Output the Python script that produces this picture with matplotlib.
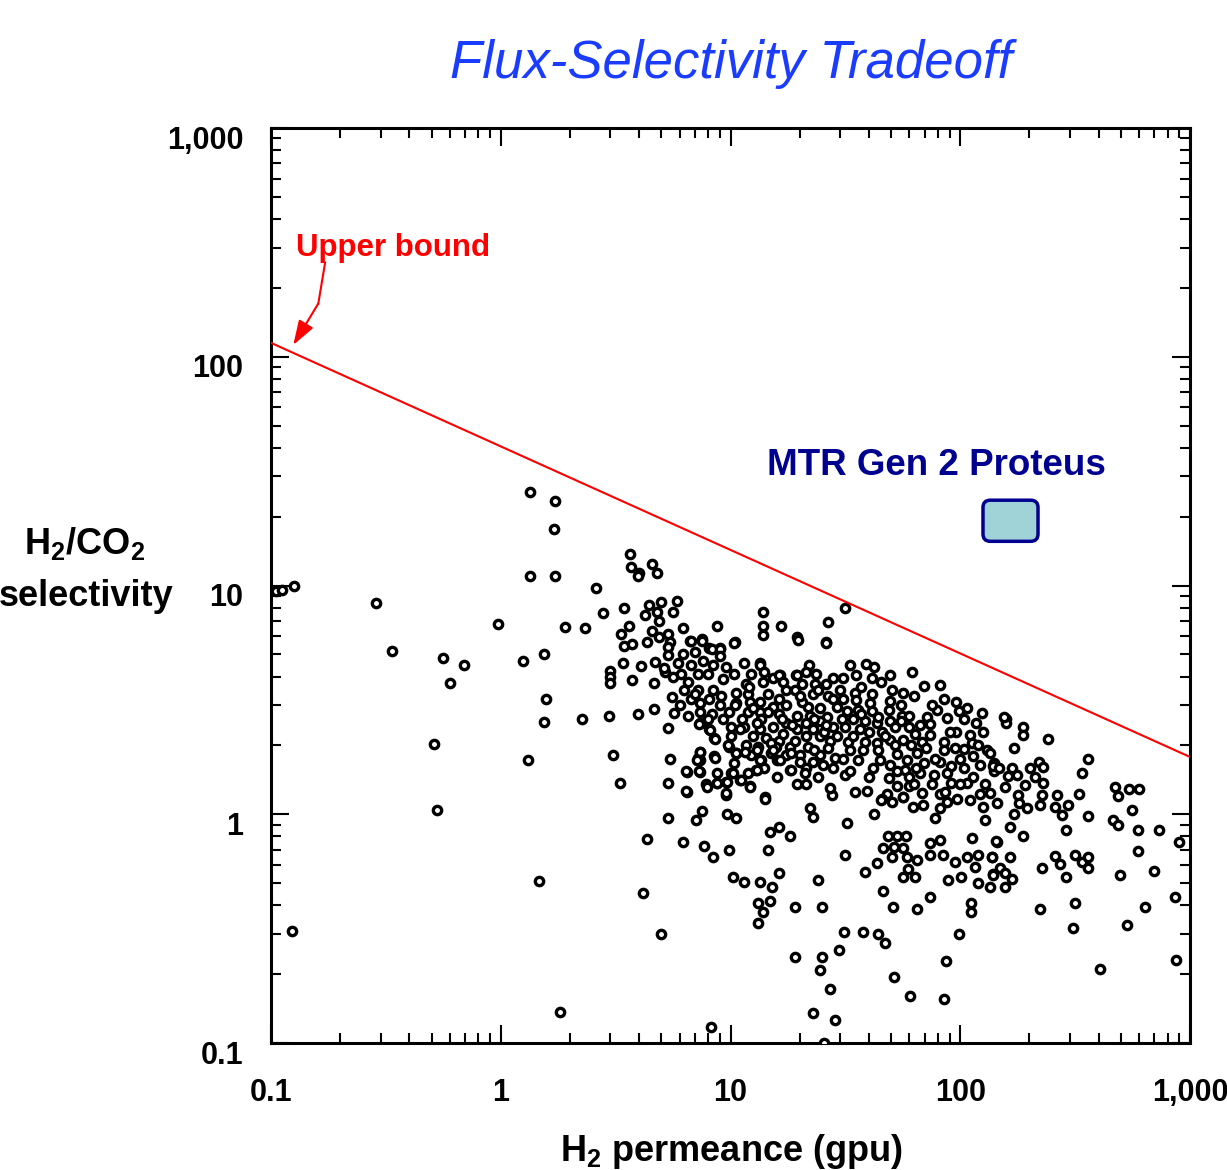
import numpy as np
import matplotlib
matplotlib.use("Agg")
from matplotlib import pyplot as plt, ticker, transforms
from matplotlib.patches import FancyBboxPatch

plt.rcParams['font.family'] = ['Liberation Sans', 'DejaVu Sans']
plt.rcParams['mathtext.fontset'] = 'custom'
plt.rcParams['mathtext.rm'] = 'Liberation Sans:bold'
plt.rcParams['mathtext.it'] = 'Liberation Sans:bold'
plt.rcParams['mathtext.bf'] = 'Liberation Sans:bold'
plt.rcParams['mathtext.default'] = 'rm'

# (H2 permeance [gpu], H2/CO2 selectivity), grouped by region
pts_low_perm = [
    (0.105, 9.5), (0.112, 9.6), (0.126, 10.0), (0.286, 8.4), (0.335, 5.15), (0.562, 4.82),
    (0.69, 4.5), (0.60, 3.74), (0.513, 2.02), (0.526, 1.04), (0.123, 0.31), (0.97, 6.8),
    (1.34, 25.6), (1.72, 23.3), (1.70, 17.7), (1.34, 11.0), (1.72, 11.0), (2.59, 9.8),
    (2.78, 7.6), (1.90, 6.6), (2.32, 6.5), (1.25, 4.7), (1.54, 5.04), (1.57, 3.2),
    (1.54, 2.53), (2.26, 2.6), (1.31, 1.72), (1.47, 0.51), (1.81, 0.137),
]

pts_upper_left = [
    (3.65, 13.8), (3.70, 12.1), (3.98, 11.3), (3.95, 11.0), (4.54, 12.4), (4.77, 11.3),
    (3.45, 7.97), (4.44, 8.2), (4.98, 8.45), (4.25, 7.43), (4.77, 7.69), (4.9, 7.0),
    (5.87, 8.58), (5.6, 7.69), (3.63, 6.65), (3.33, 6.14), (3.44, 5.44), (3.71, 5.55),
    (4.54, 6.35), (4.34, 5.68), (4.9, 5.97), (5.36, 6.14), (5.45, 5.68), (5.36, 5.4),
    (5.36, 4.97), (6.23, 6.5), (6.66, 5.73), (7.49, 5.82), (8.71, 6.65), (10.46, 5.68),
    (8.1, 5.32), (9.0, 5.32), (13.8, 7.64), (13.8, 6.67), (13.8, 6.08), (16.6, 6.65),
    (19.5, 5.93), (3.39, 4.6), (4.06, 4.45), (2.99, 4.24), (2.99, 4.0), (2.99, 3.74),
    (3.71, 3.86), (4.65, 3.76), (4.7, 4.65), (5.2, 4.2), (5.15, 4.35), (2.97, 2.69),
    (3.95, 2.74), (4.65, 2.88), (13.5, 4.57), (16.4, 4.06), (19.3, 4.06), (5.9, 4.6),
    (5.6, 4.0), (5.55, 3.26), (5.7, 2.76), (31.5, 8.0), (26.7, 6.95), (26.0, 5.68),
]

pts_core_a = [
    (6.7, 5.7), (7.5, 5.7), (8.3, 5.3), (9.0, 5.3), (10.4, 5.6), (19.7, 5.8), (26, 5.6),
    (6.2, 5.0), (7.0, 5.1), (9.0, 4.9), (7.6, 4.7), (6.7, 4.5), (8.4, 4.5), (9.6, 4.4),
    (11.4, 4.6), (13.4, 4.5), (22, 4.5), (6.1, 4.1), (7.2, 4.1), (8.0, 4.1), (10.4, 4.1),
    (12.3, 4.1), (15.3, 3.95), (16.3, 4.05), (19.4, 4.05), (21.4, 4.2), (23.6, 4.1),
    (28, 3.95), (6.55, 3.8), (9.3, 3.9), (11.7, 3.7), (13.8, 3.8), (20.4, 3.7), (23.3, 3.7),
    (26, 3.7), (6.3, 3.5), (7.2, 3.5), (8.4, 3.5), (10.6, 3.4), (11.9, 3.35), (14.5, 3.35),
    (17.5, 3.5), (19.1, 3.5), (22.9, 3.35), (26.6, 3.3), (6.7, 3.2), (8.1, 3.2), (9.1, 3.3),
    (13.4, 3.1), (16.3, 3.2), (28, 3.2), (6.0, 3.0), (7.35, 3.05), (10.6, 3.05), (12.1, 3.1),
    (15.3, 2.95), (17.5, 3.0), (21.8, 2.95), (24.5, 2.9), (29, 2.95), (6.55, 2.7), (7.35, 2.8),
    (8.3, 2.75), (9.9, 2.8), (11.9, 2.8), (13.4, 2.8), (16.3, 2.75), (19.4, 2.7), (22.1, 2.7),
    (26.2, 2.65), (7.35, 2.5), (9.3, 2.6), (11.2, 2.6), (13.6, 2.6), (17.5, 2.5), (21.4, 2.5),
    (24.5, 2.55), (8.1, 2.35), (10.1, 2.4), (11.4, 2.4), (13.4, 2.35), (15.3, 2.4), (19.4, 2.35),
    (22.9, 2.35), (28, 2.4), (8.5, 2.15), (10.1, 2.2), (12.5, 2.2), (14.3, 2.15), (16.3, 2.1),
    (21.4, 2.2), (24.5, 2.2), (27, 2.1), (9.9, 1.97), (11.7, 2.0), (13.2, 1.97), (15.8, 1.97),
    (18.1, 1.97), (21.8, 1.97), (26.6, 1.94), (7.35, 1.88), (10.6, 1.85), (12.3, 1.82),
    (15.0, 1.85), (17.5, 1.82), (20.1, 1.82), (24.5, 1.82), (28.5, 1.76), (7.2, 1.76),
    (8.5, 1.79), (13.6, 1.73), (16.0, 1.73), (22.9, 1.70), (10.4, 1.67), (6.45, 1.53),
    (7.35, 1.53), (10.1, 1.51), (11.9, 1.51), (12.9, 1.56), (18.1, 1.56), (21.4, 1.59),
    (25.3, 1.64), (21.1, 1.51), (7.8, 1.35), (8.7, 1.37), (9.6, 1.39), (11.0, 1.41),
    (12.1, 1.33), (19.4, 1.35), (21.4, 1.35), (6.45, 1.25), (9.6, 1.21), (14.1, 1.19),
    (27.6, 1.21),
]

pts_core_b = [
    (33, 4.5), (39, 4.55), (42, 4.4), (49.6, 4.05), (61.7, 4.2), (69.3, 3.65), (81.5, 3.68),
    (31, 3.95), (35.3, 4.05), (41.2, 3.95), (34.7, 3.4), (41.2, 3.35), (50.4, 3.5), (56.6, 3.4),
    (31, 3.2), (35.3, 3.15), (40.4, 3.05), (49.6, 3.12), (84.8, 3.2), (95.4, 3.08), (32, 2.83),
    (36, 2.86), (41.2, 2.83), (48.8, 2.86), (55.6, 2.7), (59.6, 2.68), (71.7, 2.66), (79.3, 2.86),
    (87.7, 2.64), (98.6, 2.83), (107, 2.9), (124, 2.78), (30.5, 2.6), (34.1, 2.6), (38.4, 2.56),
    (43.3, 2.5), (49.6, 2.56), (59.6, 2.4), (67, 2.45), (74.2, 2.48), (103.6, 2.6), (31.5, 2.4),
    (36.7, 2.35), (45.6, 2.28), (52.2, 2.4), (63.8, 2.25), (74.2, 2.21), (95.4, 2.28), (110, 2.21),
    (126, 2.28), (32.5, 2.07), (38.4, 2.07), (43.3, 2.04), (49.6, 2.11), (56.6, 2.11), (68.3, 2.07),
    (84.8, 2.07), (112, 2.04), (33.2, 1.9), (37.9, 1.9), (44, 1.9), (53.2, 1.83), (64.9, 1.86),
    (84.8, 1.9), (103.6, 1.92), (131, 1.9), (36, 1.72), (44.8, 1.72), (58.6, 1.72), (69.3, 1.67),
    (82, 1.69), (100, 1.75), (114, 1.79), (140, 1.67), (41.9, 1.6), (49.6, 1.64), (57.6, 1.56),
    (67, 1.51), (90.7, 1.62), (103.6, 1.6), (122, 1.64), (31.5, 1.48), (48.8, 1.44), (59.6, 1.46),
    (76.7, 1.48), (87.7, 1.51), (114, 1.46), (140, 1.54), (53.2, 1.33), (59.6, 1.33), (75.5, 1.35),
    (90.7, 1.37), (107, 1.37), (128, 1.35), (39.1, 1.26), (48, 1.23), (68.3, 1.24), (82, 1.22),
    (122, 1.23), (45.6, 1.17), (56.6, 1.19), (97, 1.17),
]

# points hidden in the solid black core of the cloud
pts_core_fill = [
    (10.5, 3.0), (12.5, 2.9), (14.5, 2.8), (16.8, 2.6), (18.5, 2.45), (20.5, 3.1), (23, 2.6),
    (25.5, 2.3), (11, 2.35), (13, 2.5), (15, 2.05), (17, 2.25), (19, 2.1), (20, 1.7), (23, 1.9),
    (26, 2.45), (29, 2.2), (31, 1.75), (34, 2.2), (37, 2.75), (40, 2.3), (44, 2.65), (47, 2.2),
    (52, 2.0), (55, 2.55), (61, 2.0), (64, 1.6), (71, 1.95), (78, 1.75), (90, 2.3), (95, 1.95),
    (117, 2.5), (120, 2.0), (9.0, 3.0), (8.0, 2.6), (7.0, 3.35), (12, 3.6), (14, 4.2), (17, 3.8),
    (20, 3.3), (24, 3.5), (30, 3.5), (37, 3.6), (45, 3.8), (55, 3.0), (63, 3.3), (75, 3.0),
    (14, 1.6), (16, 1.45), (24, 1.45), (28, 1.6), (33, 1.55), (40, 1.45), (53, 1.55), (27, 1.3),
    (35, 1.25), (63, 1.35), (100, 1.35), (86, 1.25),
]

pts_lower_left = [
    (5.36, 2.38), (7.31, 2.48), (8.56, 2.13), (8.15, 2.34), (9.78, 2.01), (3.09, 1.82),
    (5.45, 1.74), (7.37, 1.88), (7.37, 1.73), (7.13, 1.73), (8.56, 1.77), (6.4, 1.55),
    (7.31, 1.55), (8.76, 1.52), (10.3, 1.52), (13.0, 1.56), (10.6, 1.85), (11.6, 1.88),
    (13.0, 1.91), (13.4, 1.73), (15.3, 1.91), (16.4, 1.73), (18.4, 1.85), (18.4, 1.56),
    (3.3, 1.37), (5.36, 1.37), (6.4, 1.26), (7.88, 1.32), (8.76, 1.365), (9.63, 1.39),
    (11.1, 1.41), (12.1, 1.32), (9.6, 1.235), (14.1, 1.17), (5.36, 0.96), (7.1, 0.944),
    (7.49, 1.03), (9.63, 1.0), (10.6, 0.96), (14.9, 0.839), (16.3, 0.877), (18.2, 0.80),
    (4.35, 0.78), (6.23, 0.76), (7.67, 0.726), (8.41, 0.652), (9.88, 0.698), (14.5, 0.698),
    (10.3, 0.53), (11.5, 0.504), (13.5, 0.504), (15.1, 0.482), (16.3, 0.555), (4.15, 0.451),
    (4.97, 0.30), (13.2, 0.41), (14.8, 0.418), (13.9, 0.375), (13.2, 0.336), (19.1, 0.394),
    (24.9, 0.394), (24.1, 0.516), (19.1, 0.238), (24.9, 0.238), (24.4, 0.209), (27.1, 0.173),
    (22.8, 0.135), (28.5, 0.126), (25.5, 0.10), (8.2, 0.118),
]

pts_lower_mid = [
    (31.3, 0.307), (37.6, 0.307), (29.8, 0.255), (44, 0.30), (47, 0.273), (46, 0.463),
    (51.1, 0.394), (64.6, 0.384), (73.8, 0.433), (51.5, 0.194), (60.4, 0.161), (84.9, 0.155),
    (86.7, 0.228), (99, 0.30), (111, 0.41), (111, 0.375), (22.2, 1.06), (22.9, 0.975),
    (32.0, 0.913), (42.1, 1.0), (45.0, 1.15), (50.3, 1.13), (56.5, 1.19), (62.5, 1.08),
    (69, 1.1), (77.6, 0.96), (81.6, 1.06), (87.3, 1.13), (110, 1.15), (126, 1.08), (128, 0.944),
    (48.6, 0.80), (52.9, 0.80), (58, 0.80), (46.1, 0.71), (51.5, 0.72), (56.5, 0.71),
    (50.3, 0.652), (58.4, 0.652), (64.6, 0.63), (73.8, 0.746), (81.6, 0.772), (113, 0.785),
    (144, 0.76), (73.8, 0.664), (84.3, 0.664), (94.8, 0.62), (107, 0.652), (120, 0.664),
    (137, 0.652), (116, 0.59), (139, 0.548), (59.4, 0.575), (63.5, 0.533), (56.5, 0.533),
    (88.7, 0.516), (101, 0.533), (120, 0.502), (38.5, 0.561), (43.3, 0.61), (31.5, 0.664),
]

pts_high_perm = [
    (158, 2.60), (158, 2.50), (155, 2.65), (187, 2.40), (187, 2.22), (242, 2.13), (171, 1.94),
    (135, 1.85), (139, 1.63), (147, 1.59), (168, 1.59), (176, 1.48), (162, 1.47), (201, 1.59),
    (221, 1.70), (230, 1.61), (211, 1.46), (191, 1.34), (230, 1.37), (157, 1.32), (135, 1.235),
    (144, 1.12), (179, 1.21), (181, 1.12), (195, 1.06), (222, 1.10), (226, 1.21), (171, 1.0),
    (165, 0.877), (188, 0.80), (143, 0.764), (263, 1.21), (258, 1.08), (277, 0.99), (295, 1.10),
    (290, 0.853), (330, 1.23), (338, 1.51), (361, 1.74), (361, 0.98), (316, 0.664), (338, 0.62),
    (361, 0.652), (361, 0.58), (258, 0.657), (272, 0.606), (290, 0.53), (226, 0.58), (165, 0.652),
    (138, 0.648), (149, 0.58), (157, 0.551), (168, 0.52), (139, 0.54), (157, 0.482), (135, 0.482),
    (464, 0.944), (488, 0.897), (472, 1.32), (488, 1.20), (545, 1.29), (601, 1.29), (557, 1.04),
    (596, 0.853), (735, 0.853), (596, 0.693), (496, 0.541), (697, 0.567), (898, 0.76), (861, 0.436),
    (869, 0.231), (406, 0.21), (310, 0.318), (316, 0.41), (222, 0.385), (532, 0.328), (637, 0.393),
]

# Robeson-type upper bound (end points) and its annotation arrow path
bound_perm = [0.1, 1000]
bound_sel = [115, 1.78]
arrow_perm = [0.172, 0.1607, 0.125]
arrow_sel = [258, 171, 112.5]

# MTR Gen 2 Proteus operating window
mtr_perm = (125.6, 218)
mtr_sel = (15.6, 23.6)

tick_vals = [0.1, 1, 10, 100, 1000]
tick_labels = ['0.1', '1', '10', '100', '1,000']

all_pts = (pts_low_perm + pts_upper_left + pts_core_a + pts_core_b + pts_core_fill
           + pts_lower_left + pts_lower_mid + pts_high_perm)
perm = np.array([p[0] for p in all_pts])
sel = np.array([p[1] for p in all_pts])

fig = plt.figure(figsize=(12.27, 11.70), dpi=100)
ax = fig.add_axes([271 / 1227, 127 / 1170, 919 / 1227, 915 / 1170])
ax.set_xscale('log')
ax.set_yscale('log')
ax.set_xlim(0.1, 1000)
ax.set_ylim(0.1, 1000)

ax.scatter(perm, sel, s=36, facecolors='white', edgecolors='black', linewidths=2.4, zorder=3)

# upper bound line + label
ax.plot(bound_perm, bound_sel, color='red', lw=1.5, zorder=4)
ax.plot(arrow_perm[:2], arrow_sel[:2], color='red', lw=1.5)
ax.annotate('', xy=(arrow_perm[2], arrow_sel[2]), xytext=(arrow_perm[1], arrow_sel[1]),
            arrowprops=dict(arrowstyle='-|>,head_length=0.6,head_width=0.2', color='red', lw=1.5,
                            mutation_scale=25, shrinkA=0, shrinkB=0))
ax.text(0.1285, 300, 'Upper bound', color='red', fontsize=22.5, fontweight='bold',
        ha='left', va='center')

# MTR box
ax.text(14.4, 33.3, 'MTR Gen 2 Proteus', color='#000090', fontsize=26.5, fontweight='bold',
        ha='left', va='center')
to_axes = ax.transData + ax.transAxes.inverted()
(bx0, by0) = to_axes.transform((mtr_perm[0], mtr_sel[0]))
(bx1, by1) = to_axes.transform((mtr_perm[1], mtr_sel[1]))
box = FancyBboxPatch((bx0, by0), bx1 - bx0, by1 - by0, boxstyle='round,pad=0,rounding_size=0.008',
                     transform=ax.transAxes, facecolor='#9fd3d8', edgecolor='#000090', lw=2.5, zorder=5)
ax.add_patch(box)

# axes styling
ax.xaxis.set_major_locator(ticker.FixedLocator(tick_vals))
ax.yaxis.set_major_locator(ticker.FixedLocator(tick_vals))
ax.xaxis.set_minor_locator(ticker.LogLocator(base=10, subs=np.arange(2, 10)))
ax.yaxis.set_minor_locator(ticker.LogLocator(base=10, subs=np.arange(2, 10)))
ax.xaxis.set_minor_formatter(ticker.NullFormatter())
ax.yaxis.set_minor_formatter(ticker.NullFormatter())
ax.set_xticklabels(tick_labels, fontsize=22, fontweight='bold')
ax.set_yticklabels(tick_labels, fontsize=22, fontweight='bold')
ax.tick_params(which='both', direction='in', top=True, right=True, width=1.5, color='black')
ax.tick_params(which='major', length=13)
ax.tick_params(which='minor', length=7)
ax.tick_params(axis='x', which='major', pad=25)
ax.tick_params(axis='y', which='major', pad=20)
for sp in ax.spines.values():
    sp.set_linewidth(2.2)

# y tick labels sit a little below their ticks in the original
shift = transforms.ScaledTranslation(0, -9 / 100, fig.dpi_scale_trans)
for lab in ax.get_yticklabels():
    lab.set_transform(lab.get_transform() + shift)

fig.text(731 / 1227, 1 - 64 / 1170, 'Flux-Selectivity Tradeoff', color='#1a3cff', fontsize=38,
         style='italic', ha='center', va='center')
fig.text(731 / 1227, 1 - 1161 / 1170, r'H$_2$ permeance (gpu)', fontsize=26, fontweight='bold',
         ha='center', va='baseline')
fig.text(85 / 1227, 1 - 554 / 1170, r'H$_2$/CO$_2$', fontsize=26, fontweight='bold',
         ha='center', va='baseline')
fig.text(86 / 1227, 1 - 606 / 1170, 'selectivity', fontsize=26, fontweight='bold',
         ha='center', va='baseline')

fig.savefig('out.png', dpi=100)
